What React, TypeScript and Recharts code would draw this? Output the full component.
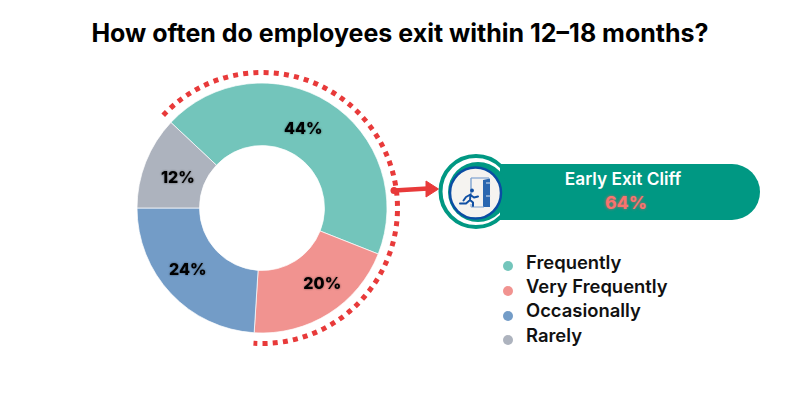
import { PieChart, Pie, Cell, Legend } from "recharts";

const categories = ["Frequently", "Very Frequently", "Occasionally", "Rarely"];
const shares = [44, 20, 24, 12];
const COLORS = ["#73c5bb", "#f19390", "#739cc7", "#adb3be"];

const bracketNames = ["Early Exit Cliff", "Other"];
const bracketValues = [64, 36];

// small hand nudges so the labels land where they do in the original
const LABEL_NUDGE = [
  [-9, -1],
  [10, -4],
  [-6, -3],
  [3, 4],
];
// rows in the legend are not evenly spaced, and the dots sit a bit apart from the text
const LEGEND_TOPS = [-1, 23, 47, 72];
const DOT_TOPS = [7.7, 32.7, 57.7, 82];

const chartData = categories.map((name, i) => ({ name, value: shares[i] }));
const bracketData = bracketNames.map((name, i) => ({ name, value: bracketValues[i] }));

const START = 136.8;
const FONT = "Inter, sans-serif";
const RAD = Math.PI / 180;

function renderLabel(p: any) {
  const r = (p.innerRadius + p.outerRadius) / 2;
  const x = p.cx + r * Math.cos(-p.midAngle * RAD) + LABEL_NUDGE[p.index][0];
  const y = p.cy + r * Math.sin(-p.midAngle * RAD) + LABEL_NUDGE[p.index][1];
  return (
    <text
      x={x}
      y={y}
      textAnchor="middle"
      dominantBaseline="central"
      fontFamily={FONT}
      fontSize={16}
      fontWeight={800}
      fill="#000"
      style={{ filter: "drop-shadow(0 0 1px rgba(0,0,0,0.45))" }}
    >
      {p.value}%
    </text>
  );
}

// only the first slice of the outer ring is drawn, as a dotted arc
function DottedArc(p: any) {
  if (p.index !== 0) return <g />;
  const x0 = p.cx + p.outerRadius * Math.cos(-p.startAngle * RAD);
  const y0 = p.cy + p.outerRadius * Math.sin(-p.startAngle * RAD);
  const x1 = p.cx + p.outerRadius * Math.cos(-p.endAngle * RAD);
  const y1 = p.cy + p.outerRadius * Math.sin(-p.endAngle * RAD);
  const large = Math.abs(p.endAngle - p.startAngle) > 180 ? 1 : 0;
  return (
    <path
      d={`M${x0},${y0} A${p.outerRadius},${p.outerRadius} 0 ${large} 1 ${x1},${y1}`}
      fill="none"
      stroke="#e83a3a"
      strokeWidth={5}
      strokeDasharray="5 5.2"
    />
  );
}

function LegendRows({ payload }: any) {
  const rows = (payload || []).filter((e: any) => categories.includes(e.value));
  return (
    <div style={{ position: "relative", height: 100, fontFamily: FONT }}>
      {rows.map((e: any, i: number) => (
        <div key={e.value}>
          <span
            style={{
              position: "absolute",
              left: 0,
              top: DOT_TOPS[i],
              width: 10,
              height: 10,
              borderRadius: 5,
              background: COLORS[categories.indexOf(e.value)],
            }}
          />
          <span
            style={{
              position: "absolute",
              left: 23,
              top: LEGEND_TOPS[i],
              fontSize: 18.4,
              fontWeight: 600,
              color: "#111",
              lineHeight: "20px",
              whiteSpace: "nowrap",
            }}
          >
            {e.value}
          </span>
        </div>
      ))}
    </div>
  );
}

function Callout() {
  return (
    <svg width={800} height={400} style={{ position: "absolute", left: 0, top: 0 }}>
      <path d="M394,190.5 L428,188.5" stroke="#e83a3a" strokeWidth={4.5} strokeLinecap="round" />
      <circle cx={394} cy={190.5} r={3.5} fill="#e83a3a" />
      <path d="M426,181 L438.5,189 L426,197 Z" fill="#e83a3a" stroke="#e83a3a" strokeLinejoin="round" />

      <circle cx={476} cy={191.5} r={35.5} fill="#fff" stroke="#009883" strokeWidth={4} />
      <path d="M500,164 L732,164 A28,28 0 0 1 732,220 L500,220 Z" fill="#009883" />
      <circle cx={478} cy={192} r={30} fill="#009883" />
      <circle cx={475.5} cy={193} r={25.5} fill="#f5f3f0" stroke="#0a4da3" strokeWidth={2.5} />

      {/* door */}
      <path d="M471,178 L471,195" stroke="#7da2d0" strokeWidth={1.4} fill="none" />
      <path d="M471,178 L489,178" stroke="#7da2d0" strokeWidth={1.2} />
      <path d="M483,180 L490,178.5 L490,207 L483,207 Z" fill="#2a67b0" />
      <path d="M486,183 L491,183 M486,196 L491,196" stroke="#dfe8f2" strokeWidth={1} />
      <path d="M471,204 L471,207 L484,207" stroke="#7da2d0" strokeWidth={1} fill="none" />
      {/* runner */}
      <circle cx={472} cy={190.5} r={1.9} fill="#0f4fa3" />
      <path
        d="M470.5,194.5 L466,197 L463.5,200.5 M470.5,194.5 L470,200 L473,202.5 L473,206 M470,200 L466,203.5 L460,203.5 M470.5,195 L474,197.5 L478,196.5"
        stroke="#0f4fa3"
        strokeWidth={2}
        fill="none"
        strokeLinecap="round"
        strokeLinejoin="round"
      />
    </svg>
  );
}

export default function App() {
  return (
    <div style={{ position: "absolute", left: 0, top: 0, width: 800, height: 400, background: "#fff" }}>
      <PieChart width={800} height={400} margin={{ top: 0, right: 0, bottom: 0, left: 0 }}>
        <Pie
          data={bracketData}
          dataKey="value"
          nameKey="name"
          cx={262}
          cy={208}
          innerRadius={131}
          outerRadius={135.5}
          startAngle={START}
          endAngle={START - 360}
          stroke="none"
          legendType="none"
          shape={DottedArc}
          isAnimationActive={false}
        />
        <Pie
          data={chartData}
          dataKey="value"
          nameKey="name"
          cx={262}
          cy={208}
          innerRadius={62.5}
          outerRadius={125}
          startAngle={START}
          endAngle={START - 360}
          stroke="#fff"
          strokeWidth={0.7}
          label={renderLabel}
          labelLine={false}
          isAnimationActive={false}
        >
          {chartData.map((_, i) => (
            <Cell key={i} fill={COLORS[i]} />
          ))}
        </Pie>
        <Legend
          layout="vertical"
          itemSorter={null}
          content={<LegendRows />}
          wrapperStyle={{ left: 503, top: 253, width: 220, height: 100 }}
        />
      </PieChart>

      <Callout />

      <div
        style={{
          position: "absolute",
          left: 0,
          top: 16,
          width: 800,
          textAlign: "center",
          fontFamily: FONT,
          fontSize: 25,
          lineHeight: "34px",
          fontWeight: 700,
          color: "#000",
        }}
      >
        How often do employees exit within 12–18 months?
      </div>
      <div
        style={{
          position: "absolute",
          left: 503,
          top: 169,
          width: 240,
          textAlign: "center",
          fontFamily: FONT,
          fontSize: 17.3,
          lineHeight: "20px",
          fontWeight: 600,
          color: "#fff",
        }}
      >
        Early Exit Cliff
      </div>
      <div
        style={{
          position: "absolute",
          left: 506,
          top: 192,
          width: 240,
          textAlign: "center",
          fontFamily: FONT,
          fontSize: 18,
          lineHeight: "22px",
          fontWeight: 700,
          color: "#f9736e",
          textShadow: "0 0 3px rgba(255,90,90,0.8)",
        }}
      >
        64%
      </div>
    </div>
  );
}
